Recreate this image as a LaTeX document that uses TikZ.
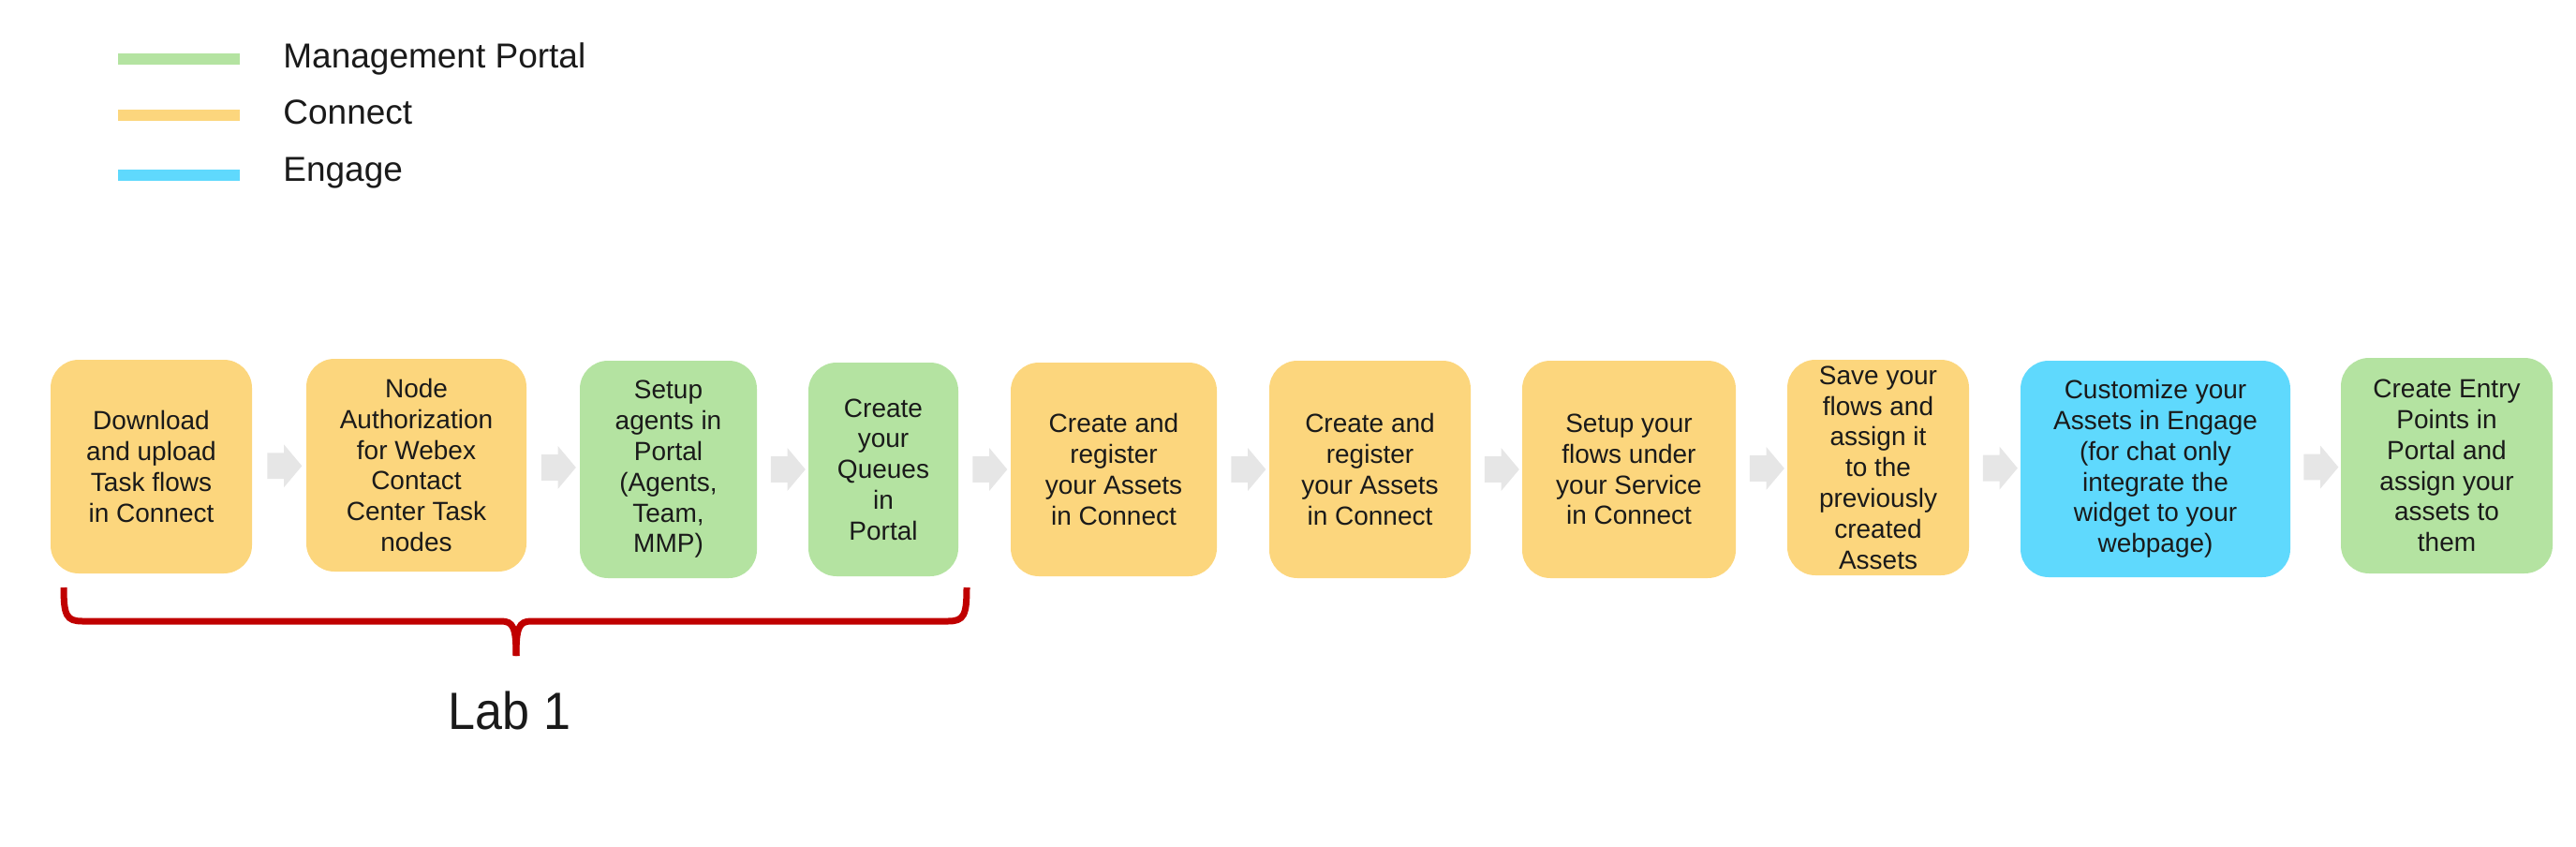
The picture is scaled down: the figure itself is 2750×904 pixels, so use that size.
\documentclass[tikz,border=0pt]{standalone}
\usepackage{fontspec}
\setmainfont{Liberation Sans}
\usetikzlibrary{shapes.arrows,calc}
\definecolor{portalgreen}{HTML}{B4E3A1}
\definecolor{connectorange}{HTML}{FCD67D}
\definecolor{engageblue}{HTML}{5FD9FD}
\definecolor{arrowgray}{HTML}{E6E6E6}
\definecolor{bracered}{HTML}{C00000}
\definecolor{txt}{HTML}{1A1A1A}
\begin{document}
\begin{tikzpicture}[x=0.5pt,y=-0.5pt,
  stepbox/.style={rounded corners=15pt, inner sep=0pt, align=center, text=txt,
    font=\fontsize{14}{16.4}\selectfont},
  orangebox/.style={stepbox, fill=connectorange},
  greenbox/.style={stepbox, fill=portalgreen},
  bluebox/.style={stepbox, fill=engageblue},
  garrow/.style={single arrow, fill=arrowgray, draw=none, inner sep=0pt,
    minimum height=18.5pt,
    single arrow head extend=4.5pt, single arrow tip angle=100},
  legendtxt/.style={anchor=base west, inner sep=0pt, text=txt,
    font=\fontsize{18.5}{22}\selectfont},
  legendline/.style={line width=6pt}
]
\useasboundingbox (0,0) rectangle (2750,904);

% legend
\draw[legendline, portalgreen] (126,63) -- (256,63);
\draw[legendline, connectorange] (126,123) -- (256,123);
\draw[legendline, engageblue] (126,187) -- (256,187);
\node[legendtxt] (lg1) at (302,73) {Management Portal};
\node[legendtxt] (lg2) at (302,133) {Connect};
\node[legendtxt] (lg3) at (302,193) {Engage};

% steps
\node[orangebox, minimum width=107.5pt, minimum height=114pt] (b1) at (161.5,498)
  {Download\\and upload\\Task flows\\in Connect};
\node[orangebox, minimum width=117.5pt, minimum height=113.5pt] (b2) at (444.5,496.5)
  {Node\\Authorization\\for Webex\\Contact\\Center Task\\nodes};
\node[greenbox, minimum width=94.5pt, minimum height=116pt] (b3) at (713.5,501)
  {Setup\\agents in\\Portal\\(Agents,\\Team,\\MMP)};
\node[greenbox, minimum width=80pt, minimum height=114pt] (b4) at (943,501)
  {Create\\your\\Queues\\in\\Portal};
\node[orangebox, minimum width=110pt, minimum height=114pt] (b5) at (1189,501)
  {Create and\\register\\your Assets\\in Connect};
\node[orangebox, minimum width=107.5pt, minimum height=116pt] (b6) at (1462.5,501)
  {Create and\\register\\your Assets\\in Connect};
\node[orangebox, minimum width=114pt, minimum height=116pt] (b7) at (1739,501)
  {Setup your\\flows under\\your Service\\in Connect};
\node[orangebox, minimum width=97pt, minimum height=115pt] (b8) at (2005,499)
  {Save your\\flows and\\assign it\\to the\\previously\\created\\Assets};
\node[bluebox, minimum width=144pt, minimum height=115.5pt] (b9) at (2301,500.5)
  {Customize your\\Assets in Engage\\(for chat only\\integrate the\\widget to your\\webpage)};
\node[greenbox, minimum width=113pt, minimum height=115pt] (b10) at (2612,497)
  {Create Entry\\Points in\\Portal and\\assign your\\assets to\\them};

% arrows
\foreach \a/\b in {b1/b2,b2/b3,b3/b4,b4/b5,b5/b6,b6/b7,b7/b8,b8/b9,b9/b10}{
  \path (\a) -- node[midway, garrow] {\rule{0pt}{13.5pt}} (\b);
}

% brace
\draw[bracered, line width=3.5pt, line cap=butt]
  (68,627) .. controls (68,657) and (71,663) .. (88,663) -- (535,663)
  .. controls (548,663) and (551,670) .. (551,700);
\draw[bracered, line width=3.5pt, line cap=butt]
  (1032,627) .. controls (1032,657) and (1029,663) .. (1012,663) -- (567,663)
  .. controls (554,663) and (551,670) .. (551,700);
\node[anchor=base, inner sep=0pt, text=txt, font=\fontsize{28}{30}\selectfont,
  xscale=0.93, transform shape] (lab) at (544,778) {Lab 1};
\end{tikzpicture}
\end{document}
